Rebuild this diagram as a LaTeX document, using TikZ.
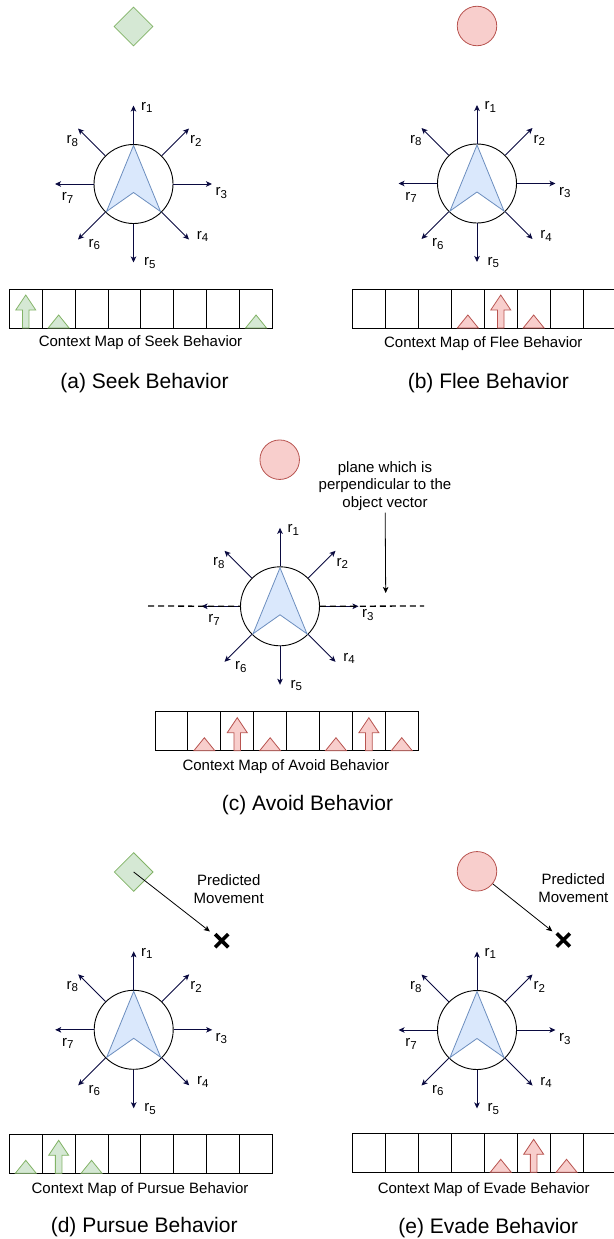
\documentclass[tikz,border=0pt]{standalone}
\usepackage{fontspec}
\setmainfont{Liberation Sans}
\usetikzlibrary{shapes.geometric,shapes.misc,arrows.meta}

\definecolor{seekfill}{HTML}{D5E8D4}
\definecolor{seekline}{HTML}{82B366}
\definecolor{fleefill}{HTML}{F8CECC}
\definecolor{fleeline}{HTML}{B85450}
\definecolor{navfill}{HTML}{DAE8FC}
\definecolor{navline}{HTML}{6C8EBF}
\definecolor{raycol}{HTML}{0A0A40}

\tikzset{
  body/.style={circle, draw, line width=0.9pt, fill=white, minimum size=79pt, inner sep=0pt},
  kite/.style={fill=navfill, draw=navline, line width=0.8pt},
  ray/.style={draw=raycol, line width=0.9pt, -{Stealth[length=6pt,width=5.5pt,inset=1.5pt]}},
  rlabel/.style={font=\fontsize{15}{18}\selectfont, inner sep=0pt},
  cell/.style={draw, line width=0.9pt, minimum width=32.9pt, minimum height=39pt, inner sep=0pt, outer sep=0pt},
  seekmark/.style={fill=seekfill, draw=seekline, line width=0.8pt},
  fleemark/.style={fill=fleefill, draw=fleeline, line width=0.8pt},
  target/.style={diamond, fill=seekfill, draw=seekline, line width=0.8pt, minimum size=39pt, inner sep=0pt},
  threat/.style={circle, fill=fleefill, draw=fleeline, line width=0.8pt, minimum size=39.5pt, inner sep=0pt},
  maptext/.style={font=\fontsize{15}{18}\selectfont},
  caption/.style={font=\fontsize{21}{25}\selectfont},
  note/.style={font=\fontsize{15}{17.5}\selectfont, align=center, inner sep=0pt},
  pointer/.style={draw, line width=0.8pt, -{Stealth[length=6pt,width=5.5pt,inset=1.5pt]}},
  plane/.style={draw, line width=1.3pt, dash pattern=on 6pt off 4pt},
  xmark/.style={cross out, draw, line width=3.6pt, minimum size=9.5pt, inner sep=0pt},
}

% robot with eight direction rays: name, x, y
\newcommand{\robot}[3]{%
  \node[body] (#1) at (#2,#3) {};
  \begin{scope}[shift={(#2,#3)}, yscale=-1]
    \filldraw[kite] (0,38.5) -- (-27,-27.5) -- (0,-8.5) -- (27,-27.5) -- cycle;
    \foreach \i/\a/\lx/\ly in {1/90/13.2/76.5, 2/45/62.3/42.8, 3/0/87.7/-8.8, 4/-45/69/-52.3,
                               5/-90/16.3/-79, 6/-135/-39.3/-60.5, 7/180/-66/-13.8, 8/135/-61.3/43.2} {
      \coordinate (#1-t\i) at (\a:78.5);
      \draw[ray] (#1.\a) -- (#1-t\i);
      \node[rlabel] (#1-l\i) at (\lx,\ly) {r\raisebox{-2.5pt}{\fontsize{11.5}{12}\selectfont\i}};
    }
  \end{scope}}

% context map of eight cells: name, left, top
\newcommand{\ctxmap}[3]{%
  \foreach \k in {1,...,8}
    \node[cell, anchor=north west] (#1-\k) at ({#2+(\k-1)*32.9},#3) {};}

\newcommand{\lowtri}[2]{\draw[#2] (#1.south) ++(-10.5,0) -- ++(21,0) -- ++(-10.5,-13) -- cycle;}
\newcommand{\bigarrow}[2]{\draw[#2] (#1.south) ++(-3.3,0) -- ++(0,-18) -- ++(-6.7,0) -- ++(10,-15)
  -- ++(10,15) -- ++(-6.7,0) -- ++(0,18) -- cycle;}

\begin{document}
\begin{tikzpicture}[x=1pt, y=-1pt]
\useasboundingbox (0,0) rectangle (613,1239);

% (a) seek
\node[target] (goalA) at (133.5,26.5) {};
\robot{seek}{133.5}{184}
\ctxmap{mapA}{9.3}{289}
\bigarrow{mapA-1}{seekmark}
\lowtri{mapA-2}{seekmark}
\lowtri{mapA-8}{seekmark}
\node[maptext] (mapAtext) at (140.5,343) {Context Map of Seek Behavior};
\node[caption] (capA) at (144.5,383) {(a) Seek Behavior};

% (b) flee
\node[threat] (foeB) at (477,26) {};
\robot{flee}{477}{183.5}
\ctxmap{mapB}{352.7}{289}
\lowtri{mapB-4}{fleemark}
\bigarrow{mapB-5}{fleemark}
\lowtri{mapB-6}{fleemark}
\node[maptext] (mapBtext) at (483.3,343.3) {Context Map of Flee Behavior};
\node[caption] (capB) at (488.3,383.3) {(b) Flee Behavior};

% (c) avoid
\node[threat] (foeC) at (279.7,459.7) {};
\robot{avoid}{280}{606.3}
\coordinate (planeL) at (148,606);
\coordinate (planeR) at (424,606);
\draw[plane] (planeL) -- (avoid.180);
\draw[plane] (avoid.0) -- (planeR);
\node[note] (planetext) at (385,486) {plane which is\\perpendicular to the\\object vector};
\coordinate (planeP) at (385.7,593);
\draw[pointer, shorten <=2pt] (planetext) -- (planeP);
\ctxmap{mapC}{155}{711.7}
\lowtri{mapC-2}{fleemark}
\bigarrow{mapC-3}{fleemark}
\lowtri{mapC-4}{fleemark}
\lowtri{mapC-6}{fleemark}
\bigarrow{mapC-7}{fleemark}
\lowtri{mapC-8}{fleemark}
\node[maptext] (mapCtext) at (285.8,766.7) {Context Map of Avoid Behavior};
\node[caption] (capC) at (307.5,805) {(c) Avoid Behavior};

% (d) pursue
\node[target] (goalD) at (133.7,872) {};
\node[xmark] (xD) at (221.7,940.7) {};
\draw[pointer, shorten >=15pt] (goalD.center) -- (xD.center);
\node[note] (predD) at (228.7,889) {Predicted\\Movement};
\robot{pursue}{133.7}{1029.8}
\ctxmap{mapD}{9.3}{1134.3}
\lowtri{mapD-1}{seekmark}
\bigarrow{mapD-2}{seekmark}
\lowtri{mapD-3}{seekmark}
\node[maptext] (mapDtext) at (140,1190) {Context Map of Pursue Behavior};
\node[caption] (capD) at (144.2,1226.7) {(d) Pursue Behavior};

% (e) evade
\node[threat] (foeE) at (477,871.3) {};
\node[xmark] (xE) at (563.3,940) {};
\draw[pointer, shorten >=14pt] (foeE) -- (xE.center);
\node[note] (predE) at (573.3,888) {Predicted\\Movement};
\robot{evade}{477}{1030}
\ctxmap{mapE}{352.7}{1133.3}
\lowtri{mapE-5}{fleemark}
\bigarrow{mapE-6}{fleemark}
\lowtri{mapE-7}{fleemark}
\node[maptext] (mapEtext) at (483.7,1189.3) {Context Map of Evade Behavior};
\node[caption] (capE) at (488.3,1228.3) {(e) Evade Behavior};
\end{tikzpicture}
\end{document}
